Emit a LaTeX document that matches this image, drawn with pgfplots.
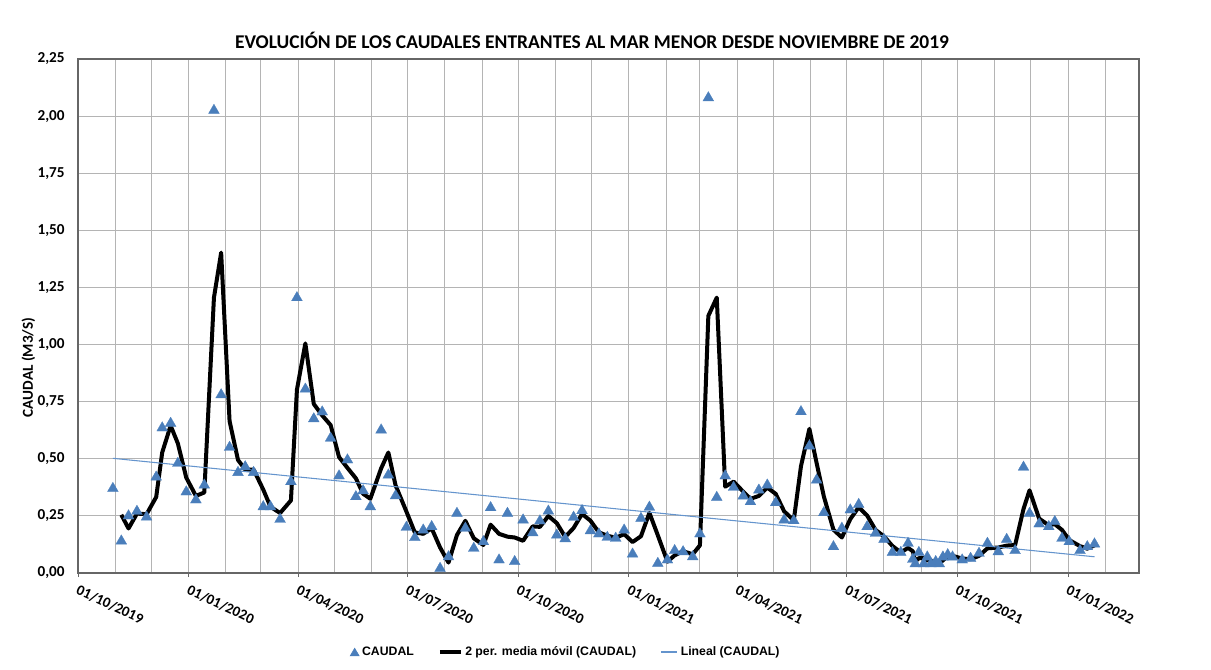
\documentclass[border=0pt]{standalone}
\usepackage{fontspec}
\setmainfont{Carlito}
\newfontfamily\legfont{Liberation Sans}
\usepackage{pgfplots}
\usepackage{pgfplotstable}
\pgfplotsset{compat=1.18}
\definecolor{caudalblue}{RGB}{74,126,187}
\definecolor{trendblue}{RGB}{100,148,205}
\definecolor{gridgray}{RGB}{180,180,180}

% days counted from 01/10/2019
\pgfplotstableread{
d y
29 0.37
36 0.14
42 0.25
49 0.27
57 0.245
65 0.42
70 0.635
77 0.655
83 0.48
90 0.355
98 0.32
105 0.385
113 2.025
119 0.78
126 0.55
133 0.44
139 0.465
146 0.44
154 0.29
160 0.29
168 0.235
177 0.40
182 1.205
189 0.805
196 0.675
203 0.705
210 0.59
217 0.425
224 0.495
231 0.334
237 0.36
243 0.29
252 0.626
258 0.429
264 0.338
273 0.20
280 0.155
287 0.188
294 0.203
301 0.02
308 0.071
315 0.261
322 0.196
329 0.108
337 0.137
343 0.286
350 0.057
357 0.261
363 0.05
370 0.232
378 0.176
384 0.228
391 0.271
398 0.166
405 0.15
412 0.244
419 0.273
426 0.185
433 0.171
440 0.156
447 0.152
454 0.188
461 0.083
468 0.239
475 0.288
482 0.042
490 0.057
496 0.098
503 0.093
511 0.071
517 0.171
524 2.08
531 0.331
538 0.425
545 0.375
553 0.337
559 0.312
566 0.363
573 0.385
580 0.308
587 0.232
595 0.229
601 0.706
608 0.556
614 0.407
620 0.264
628 0.115
635 0.196
642 0.276
649 0.30
656 0.203
663 0.174
670 0.147
677 0.09
684 0.09
690 0.13
694 0.06
696 0.04
699 0.09
703 0.04
706 0.07
709 0.04
713 0.05
716 0.04
719 0.07
723 0.08
727 0.07
735 0.057
742 0.064
749 0.086
756 0.13
765 0.093
772 0.147
779 0.098
786 0.463
791 0.261
799 0.215
807 0.203
812 0.225
818 0.152
824 0.137
833 0.098
839 0.115
845 0.127
}\caudal

% 2-period moving average
\pgfplotstableread{
d y
36 0.255
42 0.195
49 0.26
57 0.2575
65 0.3325
70 0.5275
77 0.645
83 0.5675
90 0.4175
98 0.3375
105 0.3525
113 1.205
119 1.4025
126 0.665
133 0.495
139 0.4525
146 0.4525
154 0.365
160 0.29
168 0.2625
177 0.3175
182 0.8025
189 1.005
196 0.74
203 0.69
210 0.6475
217 0.5075
224 0.46
231 0.4145
237 0.347
243 0.325
252 0.458
258 0.5275
264 0.3835
273 0.269
280 0.1775
287 0.1715
294 0.1955
301 0.1115
308 0.0455
315 0.166
322 0.2285
329 0.152
337 0.1225
343 0.2115
350 0.1715
357 0.159
363 0.1555
370 0.141
378 0.204
384 0.202
391 0.2495
398 0.2185
405 0.158
412 0.197
419 0.2585
426 0.229
433 0.178
440 0.1635
447 0.154
454 0.17
461 0.1355
468 0.161
475 0.2635
482 0.165
490 0.0495
496 0.0775
503 0.0955
511 0.082
517 0.121
524 1.1255
531 1.2055
538 0.378
545 0.40
553 0.356
559 0.3245
566 0.3375
573 0.374
580 0.3465
587 0.27
595 0.2305
601 0.4675
608 0.631
614 0.4815
620 0.3355
628 0.1895
635 0.1555
642 0.236
649 0.288
656 0.2515
663 0.1885
670 0.1605
677 0.1185
684 0.09
690 0.11
694 0.095
696 0.05
699 0.065
703 0.065
706 0.055
709 0.055
713 0.045
716 0.045
719 0.055
723 0.075
727 0.075
735 0.0635
742 0.0605
749 0.075
756 0.108
765 0.1115
772 0.12
779 0.1225
786 0.2805
791 0.362
799 0.238
807 0.209
812 0.214
818 0.1885
824 0.1445
833 0.1175
839 0.1065
845 0.121
}\media

\begin{document}
\begin{tikzpicture}
\path[use as bounding box] (0pt,0pt) rectangle (908.25pt,501.75pt);
\node[font=\bfseries\fontsize{14.6}{17}\selectfont] at (444pt,471.75pt)
  {EVOLUCIÓN DE LOS CAUDALES ENTRANTES AL MAR MENOR DESDE NOVIEMBRE DE 2019};
\begin{axis}[
    at={(58.5pt,72pt)}, anchor=south west,
    scale only axis,
    width=795.75pt, height=385.5pt,
    xmin=0, xmax=882, ymin=0, ymax=2.25,
    axis line style={black!60, line width=0.9pt},
    xtick={0,92,183,274,366,458,548,639,731,823},
    xticklabels={01/10/2019,01/01/2020,01/04/2020,01/07/2020,01/10/2020,01/01/2021,01/04/2021,01/07/2021,01/10/2021,01/01/2022},
    minor xtick={31,61,123,152,213,244,305,336,397,427,489,517,578,609,670,701,762,792,854},
    ytick={0,0.25,...,2.25},
    grid=both,
    major grid style={gridgray, line width=0.75pt},
    minor grid style={gridgray, line width=0.75pt},
    tick align=outside,
    major tick length=3pt,
    minor tick length=0pt,
    xtick style={black!60, line width=0.75pt},
    ytick style={draw=none},
    xtick pos=bottom, ytick pos=left,
    /pgf/number format/assume math mode=true,
    yticklabel style={/pgf/number format/fixed, /pgf/number format/fixed zerofill,
      /pgf/number format/precision=2, /pgf/number format/use comma,
      xshift=-3.5pt, font=\bfseries\fontsize{11.4}{13}\selectfont},
    xticklabel style={rotate=-25, anchor=north west, yshift=-1pt,
      font=\bfseries\fontsize{11}{13}\selectfont},
    ylabel={CAUDAL (M3/S)},
    ylabel style={at={(ticklabel cs:0.40,-5pt)}, font=\bfseries\fontsize{11.4}{13}\selectfont},
    legend columns=3,
    legend style={at={(0.46,-0.154)}, anchor=center, draw=none, fill=none,
      font=\legfont\bfseries\fontsize{9.2}{11}\selectfont,
      /tikz/every even column/.append style={column sep=16pt}},
]
\addplot[only marks, mark=triangle*, mark size=4.7pt,
  mark options={fill=caudalblue, draw=caudalblue, line width=0.2pt},
  legend image code/.code={\fill[caudalblue] (0pt,-2.8pt) -- (6.8pt,-2.8pt) -- (3.4pt,3pt) -- cycle;}]
  table[x=d, y=y] {\caudal};
\addlegendentry{CAUDAL}
\addplot[black, line width=3pt, line join=round,
  legend image code/.code={\draw[black, line width=3pt] (0pt,0pt) -- (15.5pt,0pt);}]
  table[x=d, y=y] {\media};
\addlegendentry{2 per. media móvil (CAUDAL)}
\addplot[trendblue, line width=0.8pt,
  legend image code/.code={\draw[trendblue, line width=1pt] (0pt,0pt) -- (12.5pt,0pt);}]
  coordinates {(29,0.502) (845,0.071)};
\addlegendentry{Lineal (CAUDAL)}
\end{axis}
\end{tikzpicture}
\end{document}
